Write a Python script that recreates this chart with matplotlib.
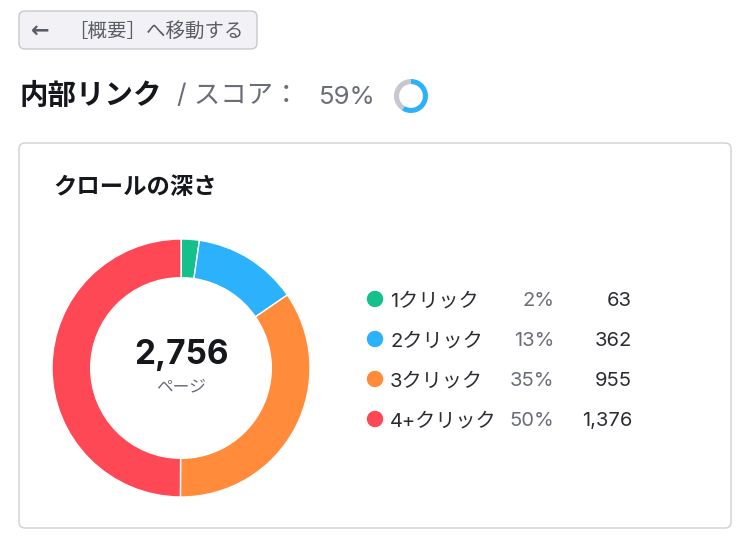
import matplotlib.pyplot as plt
from matplotlib.patches import FancyBboxPatch, Circle

plt.rcParams['font.family'] = ['Inter', 'Noto Sans CJK JP', 'DejaVu Sans']

# data
categories = ['1クリック', '2クリック', '3クリック', '4+クリック']
pages = [63, 362, 955, 1376]
percents = ['2%', '13%', '35%', '50%']
colors = ['#14c08b', '#2cb1fd', '#ff8b3b', '#ff4855']
score = 59
total_label = '2,756'

W, H = 750, 549
fig = plt.figure(figsize=(W / 100, H / 100), dpi=100)
bg = fig.add_axes([0, 0, 1, 1])
bg.set_xlim(0, W)
bg.set_ylim(H, 0)
bg.axis('off')

# back button
bg.add_patch(FancyBboxPatch((19, 11), 238, 38, boxstyle='round,pad=0,rounding_size=6',
                            fc='#f2f2f6', ec='#c8c9d0', lw=1))
bg.text(31, 31, '←', fontsize=16, color='#5a5c66', va='center', ha='left',
        family=['DejaVu Sans'], fontweight='bold')
bg.text(68, 31, '［概要］へ移動する', fontsize=14, color='#5a5c66', va='center', ha='left')

# heading
bg.text(19, 96, '内部リンク', fontsize=20.5, fontweight='bold', color='#15171c', va='center')
bg.text(177, 96, '/ スコア：', fontsize=19, color='#6b6d78', va='center')
bg.text(319, 97, f'{score}%', fontsize=18.5, color='#6b6d78', va='center')

# small score ring
ring = fig.add_axes([(411 - 17) / W, 1 - (96 + 17) / H, 34 / W, 34 / H])
ring.pie([score, 100 - score], colors=['#2cb1fd', '#c6c8d0'], startangle=90,
         counterclock=False, wedgeprops=dict(width=0.3))
ring.set_xlim(-1, 1)
ring.set_ylim(-1, 1)
ring.set_aspect('equal')

# card
bg.add_patch(FancyBboxPatch((19, 143), 712, 385, boxstyle='round,pad=0,rounding_size=6',
                            fc='white', ec='#cfd0d6', lw=1))
bg.text(53, 188, 'クロールの深さ', fontsize=16.8, fontweight='bold', color='#15171c', va='center')

# donut
cx, cy, r = 181, 368, 129
donut = fig.add_axes([(cx - r) / W, 1 - (cy + r) / H, 2 * r / W, 2 * r / H])
donut.pie(pages, colors=colors, startangle=90, counterclock=False,
          wedgeprops=dict(width=0.3, edgecolor='white', linewidth=1))
donut.set_xlim(-1, 1)
donut.set_ylim(-1, 1)
donut.set_aspect('equal')
donut.text(0, 0.1, total_label, fontsize=24, fontweight='bold', color='#15171c',
           ha='center', va='center')
donut.text(0, -0.15, 'ページ', fontsize=12, color='#6b6d78', ha='center', va='center')

# legend
for i, (cat, val, pct, col) in enumerate(zip(categories, pages, percents, colors)):
    y = 299 + 40 * i
    bg.add_patch(Circle((375, y), 7.5, color=col))
    bg.text(390, y + 2, cat, fontsize=14.5, color='#2b2d33', va='center', ha='left')
    bg.text(554, y + 2, pct, fontsize=14.5, color='#6b6d78', va='center', ha='right')
    bg.text(632, y + 2, f'{val:,}', fontsize=14.5, color='#2b2d33', va='center', ha='right')

fig.savefig('out.png', dpi=100)
